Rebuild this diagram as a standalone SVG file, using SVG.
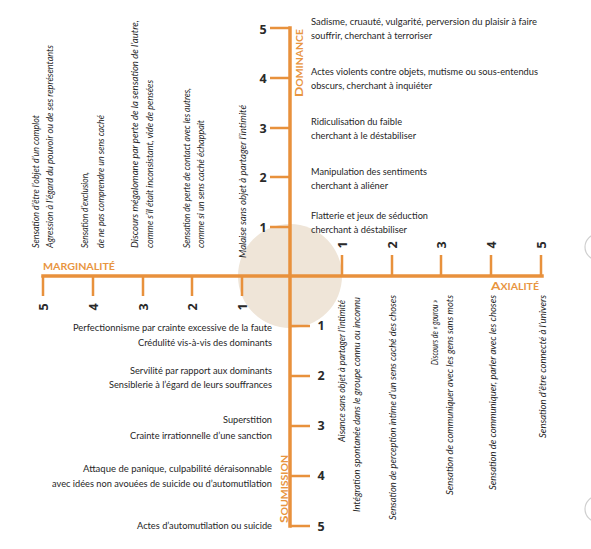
<svg xmlns="http://www.w3.org/2000/svg" width="591" height="549" viewBox="0 0 591 549">
<style>
.t{font-family:Lato,"Open Sans",sans-serif;font-size:10px;fill:#262626}
.i{font-family:Lato,"Open Sans",sans-serif;font-style:italic;font-size:9.6px;fill:#262626}
.n{font-family:"Open Sans",Lato,sans-serif;font-weight:bold;font-size:12.5px;fill:#2a2a2a}
.lab{font-family:Lato,"Open Sans",sans-serif;font-weight:bold;fill:#e8953f}
.ax{stroke:#e8913c;stroke-width:3.5;fill:none;stroke-linecap:square}
.tk{stroke:#e8913c;stroke-width:2.5;fill:none}
.hole{fill:#fff;stroke:#cfcfcf;stroke-width:1.2}
</style>
<rect width="591" height="549" fill="#fff"/>
<circle class="hole" cx="598" cy="247" r="13"/>
<circle class="hole" cx="598" cy="509" r="13"/>
<circle id="centre" cx="290" cy="276" r="52" fill="#efe5d8"/>

<g id="connectors">
<line class="ax" x1="290" y1="28" x2="290" y2="526"/>
<line class="ax" x1="43" y1="276" x2="542" y2="276"/>
<path class="tk" d="M270 28H290M270 78H290M270 128H290M270 177H290M270 227H290"/>
<path class="tk" d="M290 326H310M290 376H310M290 426H310M290 476H310M290 526H310"/>
<path class="tk" d="M43 276V296M93 276V296M143 276V296M192 276V296M242 276V296"/>
<path class="tk" d="M342 276V255M392 276V255M441 276V255M491 276V255M541 276V255"/>
</g>

<g id="axis-numbers">
<text class="n" text-anchor="middle" x="263" y="33.5">5</text>
<text class="n" text-anchor="middle" x="263" y="82.5">4</text>
<text class="n" text-anchor="middle" x="263" y="132.5">3</text>
<text class="n" text-anchor="middle" x="263" y="181.5">2</text>
<text class="n" text-anchor="middle" x="263" y="231.5">1</text>
<text class="n" text-anchor="middle" x="321" y="329.5">1</text>
<text class="n" text-anchor="middle" x="321" y="379.5">2</text>
<text class="n" text-anchor="middle" x="321" y="429.5">3</text>
<text class="n" text-anchor="middle" x="321" y="479.5">4</text>
<text class="n" text-anchor="middle" x="321" y="531">5</text>
<text class="n" text-anchor="middle" transform="translate(346.5,245) rotate(-90)">1</text>
<text class="n" text-anchor="middle" transform="translate(396.5,245) rotate(-90)">2</text>
<text class="n" text-anchor="middle" transform="translate(445.5,245) rotate(-90)">3</text>
<text class="n" text-anchor="middle" transform="translate(495.5,245) rotate(-90)">4</text>
<text class="n" text-anchor="middle" transform="translate(545.5,245) rotate(-90)">5</text>
<text class="n" text-anchor="middle" transform="translate(47.5,307) rotate(-90)">5</text>
<text class="n" text-anchor="middle" transform="translate(97.5,307) rotate(-90)">4</text>
<text class="n" text-anchor="middle" transform="translate(147.5,307) rotate(-90)">3</text>
<text class="n" text-anchor="middle" transform="translate(196.5,307) rotate(-90)">2</text>
<text class="n" text-anchor="middle" transform="translate(246.5,307) rotate(-90)">1</text>
</g>

<g id="axis-labels">
<text class="lab" font-size="9.5" x="43" y="269.5" textLength="72" lengthAdjust="spacingAndGlyphs">MARGINALITÉ</text>
<text class="lab" text-anchor="end" x="539" y="290" textLength="48" lengthAdjust="spacingAndGlyphs"><tspan font-size="11">A</tspan><tspan font-size="8.5">XIALITÉ</tspan></text>
<text class="lab" transform="translate(303,97) rotate(-90)" textLength="68" lengthAdjust="spacingAndGlyphs"><tspan font-size="11">D</tspan><tspan font-size="8.5">OMINANCE</tspan></text>
<text class="lab" transform="translate(288,523) rotate(-90)" textLength="68" lengthAdjust="spacingAndGlyphs"><tspan font-size="11">S</tspan><tspan font-size="8.5">OUMISSION</tspan></text>
</g>

<g id="dominance-5">
<text class="t" x="311" y="25" textLength="226" lengthAdjust="spacingAndGlyphs">Sadisme, cruauté, vulgarité, perversion du plaisir à faire</text>
<text class="t" x="311" y="39" textLength="121" lengthAdjust="spacingAndGlyphs">souffrir, cherchant à terroriser</text>
</g>
<g id="dominance-4">
<text class="t" x="311" y="75" textLength="227" lengthAdjust="spacingAndGlyphs">Actes violents contre objets, mutisme ou sous-entendus</text>
<text class="t" x="311" y="89" textLength="121" lengthAdjust="spacingAndGlyphs">obscurs, cherchant à inquiéter</text>
</g>
<g id="dominance-3">
<text class="t" x="311" y="125" textLength="91" lengthAdjust="spacingAndGlyphs">Ridiculisation du faible</text>
<text class="t" x="311" y="139" textLength="105" lengthAdjust="spacingAndGlyphs">cherchant à le déstabiliser</text>
</g>
<g id="dominance-2">
<text class="t" x="311" y="175" textLength="116" lengthAdjust="spacingAndGlyphs">Manipulation des sentiments</text>
<text class="t" x="311" y="189" textLength="77" lengthAdjust="spacingAndGlyphs">cherchant à aliéner</text>
</g>
<g id="dominance-1">
<text class="t" x="311" y="219" textLength="117" lengthAdjust="spacingAndGlyphs">Flatterie et jeux de séduction</text>
<text class="t" x="311" y="233" textLength="96" lengthAdjust="spacingAndGlyphs">cherchant à déstabiliser</text>
</g>

<g id="soumission-1">
<text class="t" text-anchor="end" x="272" y="331" textLength="199" lengthAdjust="spacingAndGlyphs">Perfectionnisme par crainte excessive de la faute</text>
<text class="t" text-anchor="end" x="272" y="346" textLength="134" lengthAdjust="spacingAndGlyphs">Crédulité vis-à-vis des dominants</text>
</g>
<g id="soumission-2">
<text class="t" text-anchor="end" x="272" y="374" textLength="142" lengthAdjust="spacingAndGlyphs">Servilité par rapport aux dominants</text>
<text class="t" text-anchor="end" x="272" y="388" textLength="163" lengthAdjust="spacingAndGlyphs">Sensiblerie à l’égard de leurs souffrances</text>
</g>
<g id="soumission-3">
<text class="t" text-anchor="end" x="272" y="423" textLength="49" lengthAdjust="spacingAndGlyphs">Superstition</text>
<text class="t" text-anchor="end" x="272" y="439" textLength="142" lengthAdjust="spacingAndGlyphs">Crainte irrationnelle d’une sanction</text>
</g>
<g id="soumission-4">
<text class="t" text-anchor="end" x="272" y="472" textLength="189" lengthAdjust="spacingAndGlyphs">Attaque de panique, culpabilité déraisonnable</text>
<text class="t" text-anchor="end" x="272" y="487" textLength="220" lengthAdjust="spacingAndGlyphs">avec idées non avouées de suicide ou d’automutilation</text>
</g>
<g id="soumission-5">
<text class="t" text-anchor="end" x="272" y="529" textLength="135" lengthAdjust="spacingAndGlyphs">Actes d’automutilation ou suicide</text>
</g>

<g id="marginalite-5">
<text class="i" transform="translate(38.5,248) rotate(-90)" textLength="133" lengthAdjust="spacingAndGlyphs">Sensation d’être l’objet d’un complot</text>
<text class="i" transform="translate(53,248) rotate(-90)" textLength="203" lengthAdjust="spacingAndGlyphs">Agression à l’égard du pouvoir ou de ses représentants</text>
</g>
<g id="marginalite-4">
<text class="i" transform="translate(88,248) rotate(-90)" textLength="76" lengthAdjust="spacingAndGlyphs">Sensation d’exclusion,</text>
<text class="i" transform="translate(104,248) rotate(-90)" textLength="133" lengthAdjust="spacingAndGlyphs">de ne pas comprendre un sens caché</text>
</g>
<g id="marginalite-3">
<text class="i" transform="translate(138,248) rotate(-90)" textLength="228" lengthAdjust="spacingAndGlyphs">Discours mégalomane par perte de la sensation de l’autre,</text>
<text class="i" transform="translate(153,248) rotate(-90)" textLength="168" lengthAdjust="spacingAndGlyphs">comme s’il était inconsistant, vide de pensées</text>
</g>
<g id="marginalite-2">
<text class="i" transform="translate(190,248) rotate(-90)" textLength="160" lengthAdjust="spacingAndGlyphs">Sensation de perte de contact avec les autres,</text>
<text class="i" transform="translate(204,248) rotate(-90)" textLength="128" lengthAdjust="spacingAndGlyphs">comme si un sens caché échappait</text>
</g>
<g id="marginalite-1">
<text class="i" transform="translate(246,258) rotate(-90)" textLength="153" lengthAdjust="spacingAndGlyphs">Malaise sans objet à partager l’intimité</text>
</g>

<g id="axialite-1">
<text class="i" text-anchor="end" transform="translate(345,300) rotate(-90)" textLength="142" lengthAdjust="spacingAndGlyphs">Aisance sans objet à partager l’intimité</text>
<text class="i" text-anchor="end" transform="translate(360,297) rotate(-90)" textLength="215" lengthAdjust="spacingAndGlyphs">Intégration spontanée dans le groupe connu ou inconnu</text>
</g>
<g id="axialite-2">
<text class="i" text-anchor="end" transform="translate(396,295) rotate(-90)" textLength="225" lengthAdjust="spacingAndGlyphs">Sensation de perception intime d’un sens caché des choses</text>
</g>
<g id="axialite-3">
<text class="i" text-anchor="end" transform="translate(438,300) rotate(-90)" textLength="65" lengthAdjust="spacingAndGlyphs">Discours de « gourou »</text>
<text class="i" text-anchor="end" transform="translate(453,295) rotate(-90)" textLength="200" lengthAdjust="spacingAndGlyphs">Sensation de communiquer avec les gens sans mots</text>
</g>
<g id="axialite-4">
<text class="i" text-anchor="end" transform="translate(496,295) rotate(-90)" textLength="195" lengthAdjust="spacingAndGlyphs">Sensation de communiquer, parler avec les choses</text>
</g>
<g id="axialite-5">
<text class="i" text-anchor="end" transform="translate(546,295) rotate(-90)" textLength="143" lengthAdjust="spacingAndGlyphs">Sensation d’être connecté à l’univers</text>
</g>
</svg>
